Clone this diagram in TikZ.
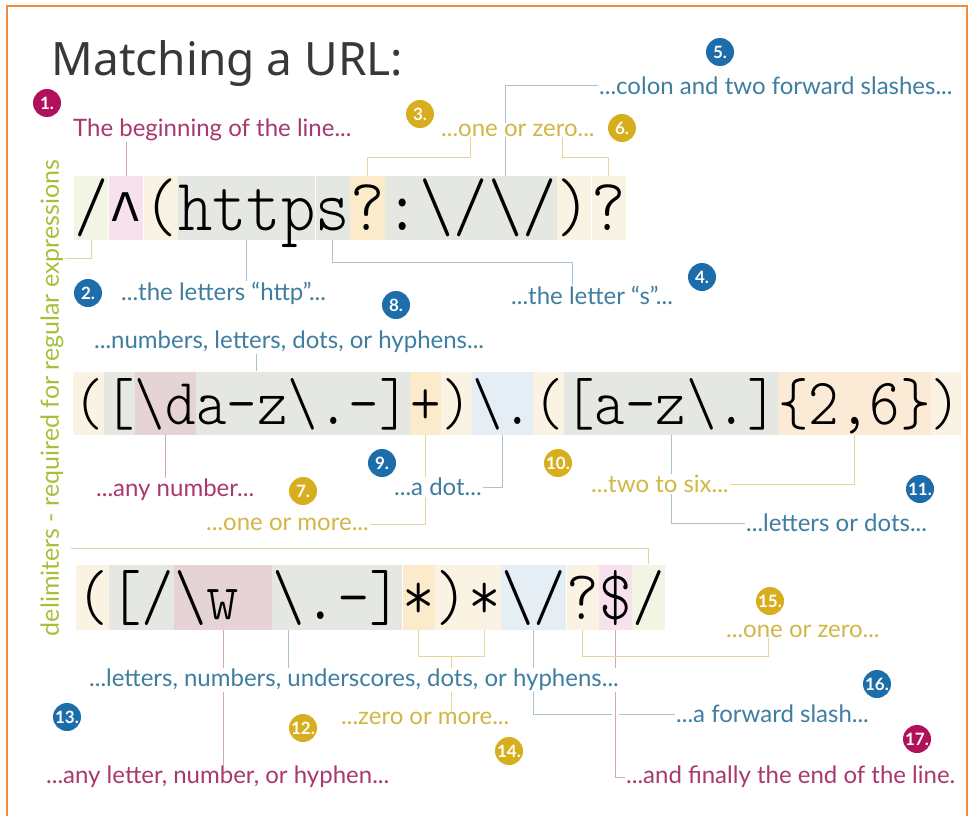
\documentclass[tikz,border=0pt]{standalone}
\usepackage{fontspec}
\setmainfont{Lato}
\newfontfamily\rxfont[FakeStretch=0.88]{lmmonolt10-regular.otf}
\newfontfamily\caretfont[FakeStretch=0.88]{Liberation Mono}
\newfontfamily\titlefont{Noto Sans}
\usepackage{xcolor}
\definecolor{mag}{HTML}{A8386E}
\definecolor{magdot}{HTML}{B0115A}
\definecolor{magline}{HTML}{D4A4BC}
\definecolor{blu}{HTML}{3F7EA0}
\definecolor{bludot}{HTML}{1C6DAA}
\definecolor{bluline}{HTML}{A9C3D2}
\definecolor{yel}{HTML}{D2B646}
\definecolor{yeldot}{HTML}{D6AE1E}
\definecolor{yelline}{HTML}{E6D49A}
\definecolor{grn}{HTML}{A5C13A}
\definecolor{grnline}{HTML}{D2DBA8}
\definecolor{frame}{HTML}{F58A3C}
% cell tints behind the expression
\definecolor{tgreen}{HTML}{F2F4E4}
\definecolor{tpink}{HTML}{F6E1EC}
\definecolor{tmauve}{HTML}{E5D3D6}
\definecolor{tgray}{HTML}{E4E7E2}
\definecolor{tcream}{HTML}{FAF3E3}
\definecolor{tyel}{HTML}{FCEBCB}
\definecolor{tblue}{HTML}{E6EEF5}
\definecolor{torange}{HTML}{FBEAD5}
\usepackage{tikz}
\usetikzlibrary{positioning,calc}
\pgfdeclarelayer{bg}
\pgfsetlayers{bg,main}

\begin{document}
\begin{tikzpicture}[x=1pt,y=1pt,
  lbl/.style={font=\fontsize{24}{26}\selectfont,inner sep=1pt,anchor=west,fill=white},
  badge/.style={circle,inner sep=0pt,minimum size=28,text=white,font=\fontsize{17}{17}\selectfont\bfseries},
  rxa/.style={inner sep=0pt,text height=54,text depth=10,font=\rxfont\fontsize{74.2}{75}\selectfont},
  rxb/.style={inner sep=0pt,text height=53,text depth=10,font=\rxfont\fontsize{66}{67}\selectfont},
  rxc/.style={inner sep=0pt,text height=55,text depth=10,font=\rxfont\fontsize{70.3}{71}\selectfont},
  lmag/.style={draw=magline,line width=1pt},
  lblu/.style={draw=bluline,line width=1pt},
  lyel/.style={draw=yelline,line width=1pt},
  lgrn/.style={draw=grnline,line width=1pt}]
  \useasboundingbox (0,0) rectangle (972,-816);
  \draw[frame,line width=2pt] (7,-820) -- (7,-6) -- (967,-6) -- (967,-820);

  \node[anchor=west,font=\titlefont\fontsize{46}{46}\selectfont,text=black!78] (title) at (48,-64) {Matching a URL:};

  % first line of the expression
  \node[rxa,fill=tgreen,anchor=west] (d1) at (74,-208) {/};
  \node[rxa,fill=tpink,right=0pt of d1] (caret) {\caretfont\fontsize{65}{65}\selectfont\raisebox{-5pt}{\textasciicircum}};
  \node[rxa,fill=tcream,right=0pt of caret] (lp1) {(};
  \node[rxa,fill=tgray,right=0pt of lp1] (http) {http};
  \node[rxa,fill=tgray,right=0pt of http] (s) {s};
  \node[rxa,fill=tyel,right=0pt of s] (q1) {?};
  \node[rxa,fill=tgray,right=0pt of q1] (slashes) {:\textbackslash/\textbackslash/};
  \node[rxa,fill=tcream,right=0pt of slashes] (rp1) {)};
  \node[rxa,fill=tcream,right=0pt of rp1] (q2) {?};

  % second line
  \node[rxb,fill=tcream,anchor=west] (lp2) at (73,-403) {(};
  \node[rxb,fill=tgray,right=0pt of lp2] (lb2) {[};
  \node[rxb,fill=tmauve,right=0pt of lb2] (digit) {\textbackslash d};
  \node[rxb,fill=tgray,right=0pt of digit] (az1) {a-z\textbackslash .-]};
  \node[rxb,fill=tyel,right=0pt of az1] (plus) {+};
  \node[rxb,fill=tcream,right=0pt of plus] (rp2) {)};
  \node[rxb,fill=tblue,right=0pt of rp2] (dot) {\textbackslash .};
  \node[rxb,fill=tcream,right=0pt of dot] (lp3) {(};
  \node[rxb,fill=tgray,right=0pt of lp3] (az2) {[a-z\textbackslash .]};
  \node[rxb,fill=torange,right=0pt of az2] (range) {\{2,6\}};
  \node[rxb,fill=tcream,right=0pt of range] (rp3) {)};

  % third line
  \node[rxc,fill=tcream,anchor=west] (lp4) at (76,-597) {(};
  \node[rxc,fill=tgray,right=0pt of lp4] (lb4) {[/};
  \node[rxc,fill=tmauve,right=0pt of lb4] (word) {\textbackslash w\hphantom{w}};
  \node[rxc,fill=tgray,right=0pt of word] (dots) {\textbackslash .-]};
  \node[rxc,fill=tyel,right=0pt of dots] (star1) {*};
  \node[rxc,fill=tcream,right=0pt of star1] (rp4) {)};
  \node[rxc,fill=tcream,right=0pt of rp4] (star2) {*};
  \node[rxc,fill=tblue,right=0pt of star2] (slash) {\textbackslash /};
  \node[rxc,fill=tcream,right=0pt of slash] (q3) {?};
  \node[rxc,fill=tpink,right=0pt of q3] (dollar) {\$};
  \node[rxc,fill=tgreen,right=0pt of dollar] (d2) {/};

  % labels
  \node[lbl,text=mag] (lbeg) at (72,-130) {The beginning of the line...};
  \node[lbl,text=yel] (zero1) at (440,-130) {...one or zero...};
  \node[lbl,text=blu] (colon) at (598,-86) {...colon and two forward slashes...};
  \node[lbl,text=blu] (lhttp) at (120,-293) {...the letters “http”...};
  \node[lbl,text=blu] (ls) at (510,-295) {...the letter “s”...};
  \node[lbl,text=blu] (lnum) at (93,-342) {...numbers, letters, dots, or hyphens...};
  \node[lbl,text=mag] (lany) at (95,-490) {...any number...};
  \node[lbl,text=blu] (ldot) at (393,-487) {...a dot...};
  \node[lbl,text=yel] (lmore) at (205,-524) {...one or more...};
  \node[lbl,text=yel] (lsix) at (590,-484) {...two to six...};
  \node[lbl,text=blu] (ldots) at (745,-523) {...letters or dots...};
  \node[lbl,text=blu] (lund) at (88,-680) {...letters, numbers, underscores, dots, or hyphens...};
  \node[lbl,text=yel] (lzero) at (340,-718) {...zero or more...};
  \node[lbl,text=mag] (lanyl) at (45,-777) {...any letter, number, or hyphen...};
  \node[lbl,text=yel] (lone) at (725,-631) {...one or zero...};
  \node[lbl,text=blu] (lfs) at (675,-714) {...a forward slash...};
  \node[lbl,text=mag] (lend) at (625,-777) {...and finally the end of the line.};
  \node[lbl,text=grn,fill=none,rotate=90,anchor=center,font=\fontsize{25}{27}\selectfont] (ldelim) at (52,-398) {delimiters - required for regular expressions};

  \foreach \n/\c/\x/\y in {1/magdot/47/103,2/bludot/88/293,3/yeldot/420/114,4/bludot/702/277,
      5/bludot/720/52,6/yeldot/622/128,7/yeldot/303/491,8/bludot/396/305,9/bludot/382/463,
      10/yeldot/558/463,11/bludot/920/489,12/yeldot/303/728,13/bludot/67/717,14/yeldot/509/751,
      15/yeldot/770/601,16/bludot/877/684,17/magdot/917/739}
    \node[badge,fill=\c] (b\n) at (\x,-\y) {\n.};

  \begin{pgfonlayer}{bg}
    % line one
    \draw[lmag] (lbeg.south -| caret) -- (caret.north);
    \draw[lyel] (q1.north) -- ++(0,18) -| ([xshift=30]zero1.south west);
    \draw[lyel] (q2.north) -- ++(0,18) -| ([xshift=-33]zero1.south east);
    \draw[lblu] ($(slashes.north west)!0.7!(slashes.north east)$) |- (colon.west);
    \draw[lgrn] (d1.south) |- ++(-26,-18);
    \draw[lblu] (http.south) -- (http.south |- lhttp.north);
    \draw[lblu] (s.south) -- ++(0,-22) -| ([xshift=62]ls.north west);
    % line two
    \coordinate (cls) at ($(lb2.north west)!0.5!(az1.north east)$);
    \draw[lblu] (cls) -- (cls |- lnum.south);
    \draw[lmag] (digit.south) -- (digit.south |- lany.north);
    \draw[lyel] (plus.south) |- (lmore.east);
    \draw[lblu] (dot.south) |- (ldot.east);
    \draw[lyel] (range.south) |- (lsix.east);
    \draw[lblu] (az2.south) |- (ldots.west);
    % line three
    \draw[lgrn] (d2.north) |- ++(-578,16);
    \draw[lmag] (word.south) -- (word.south |- lanyl.north);
    \draw[lblu] ([xshift=16]dots.south west) -- ([xshift=16]dots.south west |- lund.north);
    \draw[lyel] (star1.south) -- ++(0,-27) -| (star2.south);
    \coordinate (stars) at ($(star1.south)!0.5!(star2.south)+(0,-27)$);
    \draw[lyel] (stars) -- (stars |- lzero.north);
    \draw[lblu] (slash.south) |- (lfs.west);
    \draw[lmag,preaction={draw=white,line width=7pt}] (dollar.south) |- (lend.west);
    \draw[lyel] (q3.south) -- ++(0,-27) -| ([xshift=43]lone.south west);
  \end{pgfonlayer}
\end{tikzpicture}
\end{document}
